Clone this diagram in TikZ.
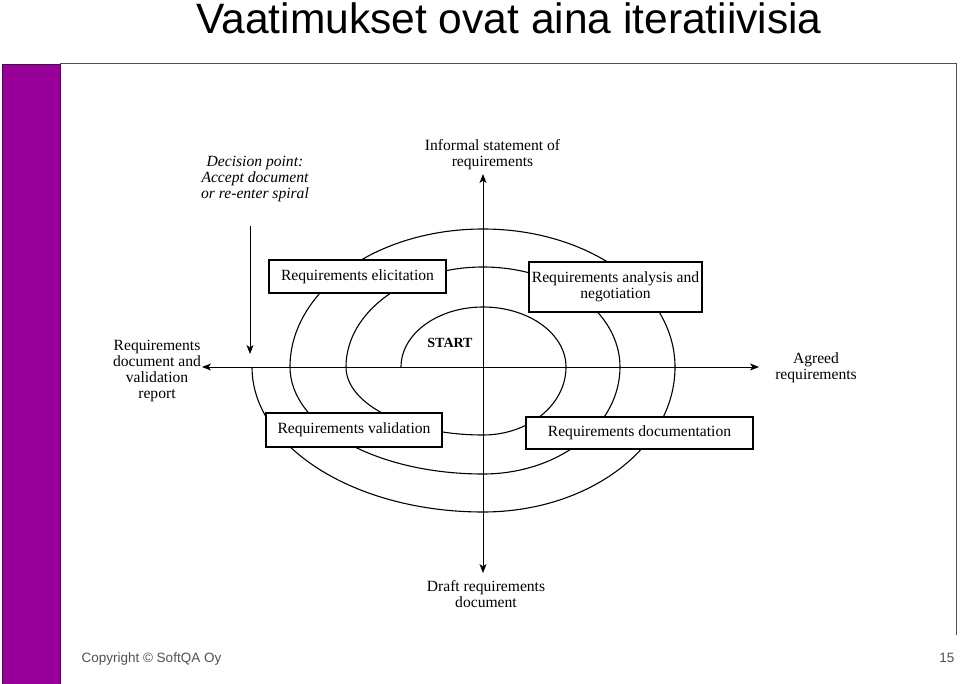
\documentclass[tikz,border=0pt]{standalone}
\usepackage{fontspec}
\setmainfont{Liberation Serif}
\newfontfamily\slidefont{Liberation Sans}
\usepackage{xcolor}
\usepackage{tikz}
\usetikzlibrary{shapes.geometric, arrows, arrows.meta}
\definecolor{slidepurple}{HTML}{990099}
\definecolor{framegray}{HTML}{505050}
\tikzstyle{arrow} = [line width=0.8pt,->,>={Stealth[length=9pt,width=7pt,inset=2.5pt]}]
\tikzstyle{spiral} = [line width=1.1pt]
\tikzstyle{phase} = [draw, line width=1.6pt, fill=white, inner sep=2pt, align=center, font=\fontsize{15.6}{16}\selectfont]
\tikzstyle{note} = [align=center, inner sep=1pt, font=\fontsize{15.6}{16}\selectfont]

\begin{document}
\begin{tikzpicture}[x=1pt,y=-1pt]
				\useasboundingbox (0,0) rectangle (960,684);
				\begin{scope}[framegray]
				% Slide frame:
				% Purple bar on the left, thin line along the top and the right
				\filldraw[fill=slidepurple, draw=slidepurple!60!black, line width=0.8pt] (2.5,64) rectangle (60,684);
				\draw[line width=1pt] (60,64) -- (956,64) -- (956,635);
				
				% Title and footer:
				\node[anchor=base, text=black, font=\slidefont\fontsize{42.5}{46}\selectfont] (title) at (509,33.5) {Vaatimukset ovat aina iteratiivisia};
				\node[anchor=base west, font=\slidefont\fontsize{13.5}{16}\selectfont] (copyright) at (78,662) {Copyright © SoftQA Oy};
				\node[anchor=base east, font=\slidefont\fontsize{13.5}{16}\selectfont] (page) at (958,662) {15};
				\end{scope}
				
				% Spiral:
				% One quarter ellipse per step, every step a bit wider than the one before
				\coordinate (centre) at (483,367);
				\draw[spiral] (401,367)
					\foreach \a/\rx/\ry in {180/82/60, 270/83/60, 0/83/68, 90/137/68,
						180/137/100, 270/137/100, 0/137/107, 90/193/107,
						180/193/138, 270/192/138, 0/192/145, 90/231/145}{%
						arc[start angle=\a, delta angle=90, x radius=\rx, y radius=\ry]
					};
				
				% Axes:
				\coordinate (north) at (483,174);
				\coordinate (south) at (483,573);
				\coordinate (west) at (202,367);
				\coordinate (east) at (759,367);
				\draw[arrow] (centre) -- (north);
				\draw[arrow] (centre) -- (south);
				\draw[arrow] (centre) -- (west);
				\draw[arrow] (centre) -- (east);
				
				% Decision point:
				\coordinate (choice) at (250,226);
				\coordinate (reenter) at (250,354);
				\draw[arrow] (choice) -- (reenter);
				
				% Phases:
				\node[phase, minimum width=177pt, minimum height=33pt] (elicit) at (357.5,276.5) {Requirements elicitation};
				\node[phase, minimum width=173pt, minimum height=50pt] (analyse) at (615.5,287) {Requirements analysis and\\negotiation};
				\node[phase, minimum width=176pt, minimum height=34pt] (validate) at (354,430) {Requirements validation};
				\node[phase, minimum width=227pt, minimum height=32pt] (document) at (639.5,433) {Requirements documentation};
				
				\node[font=\fontsize{14}{16}\selectfont\bfseries] (start) at (450,343) {START};
				
				% Inputs and outputs:
				\node[note, font=\fontsize{15.6}{16}\selectfont\itshape] (decision) at (255,179) {Decision point:\\Accept document\\or re-enter spiral};
				\node[note] (informal) at (492.5,155) {Informal statement of\\requirements};
				\node[note] (reqdoc) at (157,371) {Requirements\\document and\\validation\\report};
				\node[note] (agreed) at (816,368) {Agreed\\requirements};
				\node[note] (draft) at (486,594) {Draft requirements\\document};
\end{tikzpicture}
\end{document}
